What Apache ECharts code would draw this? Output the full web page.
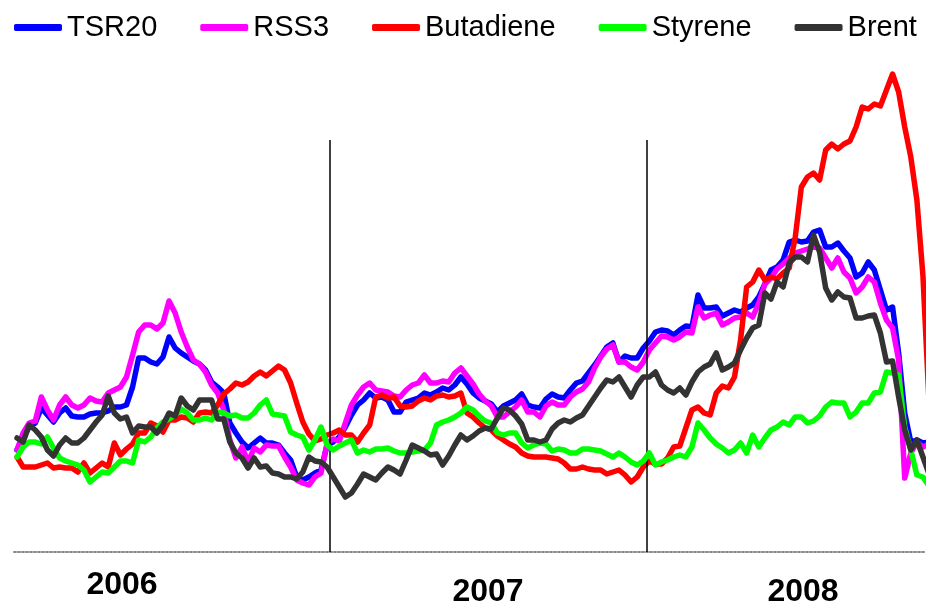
<!DOCTYPE html>
<html>
<head>
<meta charset="utf-8">
<script src="https://cdn.jsdelivr.net/npm/echarts@6/dist/echarts.min.js"></script>
<style>
html,body{margin:0;padding:0;background:#fff;}
#chart{width:926px;height:605px;}
</style>
</head>
<body>
<div id="chart"></div>
<script>
// Weekly observations, Jan 2006 – Nov 2008 (index levels, arbitrary units)
const seriesNames = ['TSR20', 'RSS3', 'Butadiene', 'Styrene', 'Brent'];
const yearLabels = ['2006', '2007', '2008'];
const yearBoundaries = [51.5, 103.5]; // week positions of year changes

const tsr20 = [
  102,115,125,129,144,137,130,139,144,136,135,135,138,139,139,141,145,145,147,165,194,194,
  190,188,195,215,204,199,195,191,188,182,170,165,159,129,119,110,104,109,114,109,109,
  107,99,92,75,72,75,79,82,107,110,115,125,137,147,152,159,154,155,152,140,140,
  150,152,154,159,157,160,164,162,167,175,168,159,154,151,148,140,146,149,152,158,147,145,
  144,153,158,155,154,162,169,171,179,187,196,205,209,190,196,194,194,204,211,220,222,
  221,217,222,226,225,257,244,244,245,236,239,242,240,244,247,255,268,282,285,292,310,312,
  310,311,320,322,305,305,309,301,294,275,279,290,282,262,242,245,199,139,110,112,109,110
];
const rss3 = [
  102,119,129,131,155,142,132,147,155,147,144,147,154,151,150,159,162,165,175,197,220,227,
  227,223,229,251,239,220,205,192,188,180,167,159,142,112,94,105,90,104,100,107,106,
  106,95,85,72,69,67,75,79,109,113,111,129,147,157,165,169,162,161,160,156,155,
  162,167,169,177,169,169,171,170,179,184,176,168,158,151,146,135,135,140,145,152,140,140,
  135,146,150,147,147,155,160,163,170,184,195,203,207,190,190,185,182,190,202,209,216,
  215,212,215,220,219,245,234,237,239,227,230,234,235,239,235,249,268,274,283,288,294,299,
  301,303,305,304,294,284,294,280,274,259,265,275,270,249,232,224,192,74,99,110,105,108
];
const butadiene = [
  95,85,85,85,87,89,84,85,84,84,80,89,79,84,89,85,109,97,103,108,119,119,
  129,126,120,132,132,135,134,130,139,140,139,147,158,163,169,167,170,176,180,176,181,
  186,182,169,149,130,118,111,113,117,119,122,117,117,110,119,127,155,157,154,155,146,
  145,146,151,154,152,156,157,155,156,159,139,135,129,124,122,116,112,108,105,99,96,95,
  95,95,94,93,89,83,83,85,83,82,82,78,80,82,77,70,75,85,91,88,88,
  94,105,106,124,142,145,139,137,159,166,164,175,212,265,270,282,272,275,273,279,284,315,
  365,375,379,372,402,408,403,408,411,425,445,443,448,446,462,478,460,425,395,352,276,150
];
const styrene = [
  95,105,110,110,108,115,104,94,91,89,87,82,70,75,80,79,85,91,91,89,112,110,
  115,124,130,133,137,143,139,132,132,134,132,140,139,136,137,134,134,139,147,152,138,
  137,136,120,117,115,102,112,125,107,102,106,109,112,99,102,100,103,103,104,101,99,
  99,100,101,102,109,127,130,132,135,139,145,142,136,131,129,119,117,119,119,109,104,107,
  109,108,101,103,102,99,99,103,103,102,101,98,95,99,95,90,87,91,99,87,90,
  92,95,97,95,105,129,122,114,108,104,99,102,109,99,117,105,114,122,125,130,127,135,
  135,129,131,136,145,150,149,149,135,140,149,149,159,160,180,179,177,125,102,77,75,66
];
const brent = [
  114,110,127,122,115,102,96,107,114,109,109,114,122,130,137,156,139,133,135,119,126,125,
  125,119,127,139,136,154,146,142,152,152,152,133,133,110,99,94,84,94,85,86,79,
  78,75,75,73,80,95,91,90,85,75,65,55,59,68,78,75,72,79,85,82,78,
  92,107,104,101,97,98,87,96,107,117,112,116,121,124,123,134,144,142,136,128,112,112,
  110,112,123,129,132,130,134,137,146,155,164,172,170,175,165,155,167,175,175,180,167,
  162,159,164,157,170,180,185,188,199,182,185,189,202,214,224,227,259,253,270,265,289,295,
  295,290,317,300,264,252,260,255,254,234,234,236,237,219,190,191,155,122,102,112,95,78
];

const colors = ['#0000FF', '#FF00FF', '#FF0000', '#00FF00', '#333333'];
const allData = [tsr20, rss3, butadiene, styrene, brent];

const chart = echarts.init(document.getElementById('chart'), null, {renderer: 'canvas'});

const series = allData.map((arr, k) => ({
  name: seriesNames[k],
  type: 'line',
  data: arr.map((v, i) => [i, v]),
  symbol: 'none',
  smooth: false,
  animation: false,
  clip: true,
  lineStyle: {color: colors[k], width: 5.5, join: 'round', cap: 'round'},
  itemStyle: {color: colors[k]},
  z: 2 + k
}));

series.push({
  name: 'yearlines',
  type: 'line',
  data: [],
  animation: false,
  silent: true,
  markLine: {
    symbol: 'none',
    silent: true,
    animation: false,
    label: {show: false},
    lineStyle: {color: '#000', width: 1.5, type: 'solid'},
    data: yearBoundaries.map(b => [{coord: [b, 0]}, {coord: [b, 412]}])
  }
});

const yearPos = [[122, 585], [488, 592], [803, 592]];

chart.setOption({
  backgroundColor: '#ffffff',
  animation: false,
  textStyle: {fontFamily: 'Liberation Sans'},
  legend: {
    data: seriesNames,
    left: 14,
    top: 13,
    width: 912,
    padding: 0,
    itemWidth: 48,
    itemHeight: 7,
    itemGap: 43,
    icon: 'roundRect',
    textStyle: {fontSize: 29, color: '#000', fontFamily: 'Liberation Sans'}
  },
  grid: {left: 14, right: 0, top: 52, bottom: 53, containLabel: false},
  xAxis: {
    type: 'value',
    min: -0.5,
    max: 149.5,
    axisLine: {show: true, lineStyle: {color: '#888', width: 2, type: 'dotted'}},
    axisTick: {show: false},
    axisLabel: {show: false},
    splitLine: {show: false}
  },
  yAxis: {
    type: 'value',
    min: 0,
    max: 500,
    show: false,
    splitLine: {show: false}
  },
  graphic: yearLabels.map((t, i) => ({
    type: 'text',
    x: yearPos[i][0],
    y: yearPos[i][1],
    style: {
      text: t,
      font: 'bold 32px "Liberation Sans"',
      fill: '#000',
      textAlign: 'center',
      textVerticalAlign: 'middle'
    }
  })),
  series: series
});
</script>
</body>
</html>
